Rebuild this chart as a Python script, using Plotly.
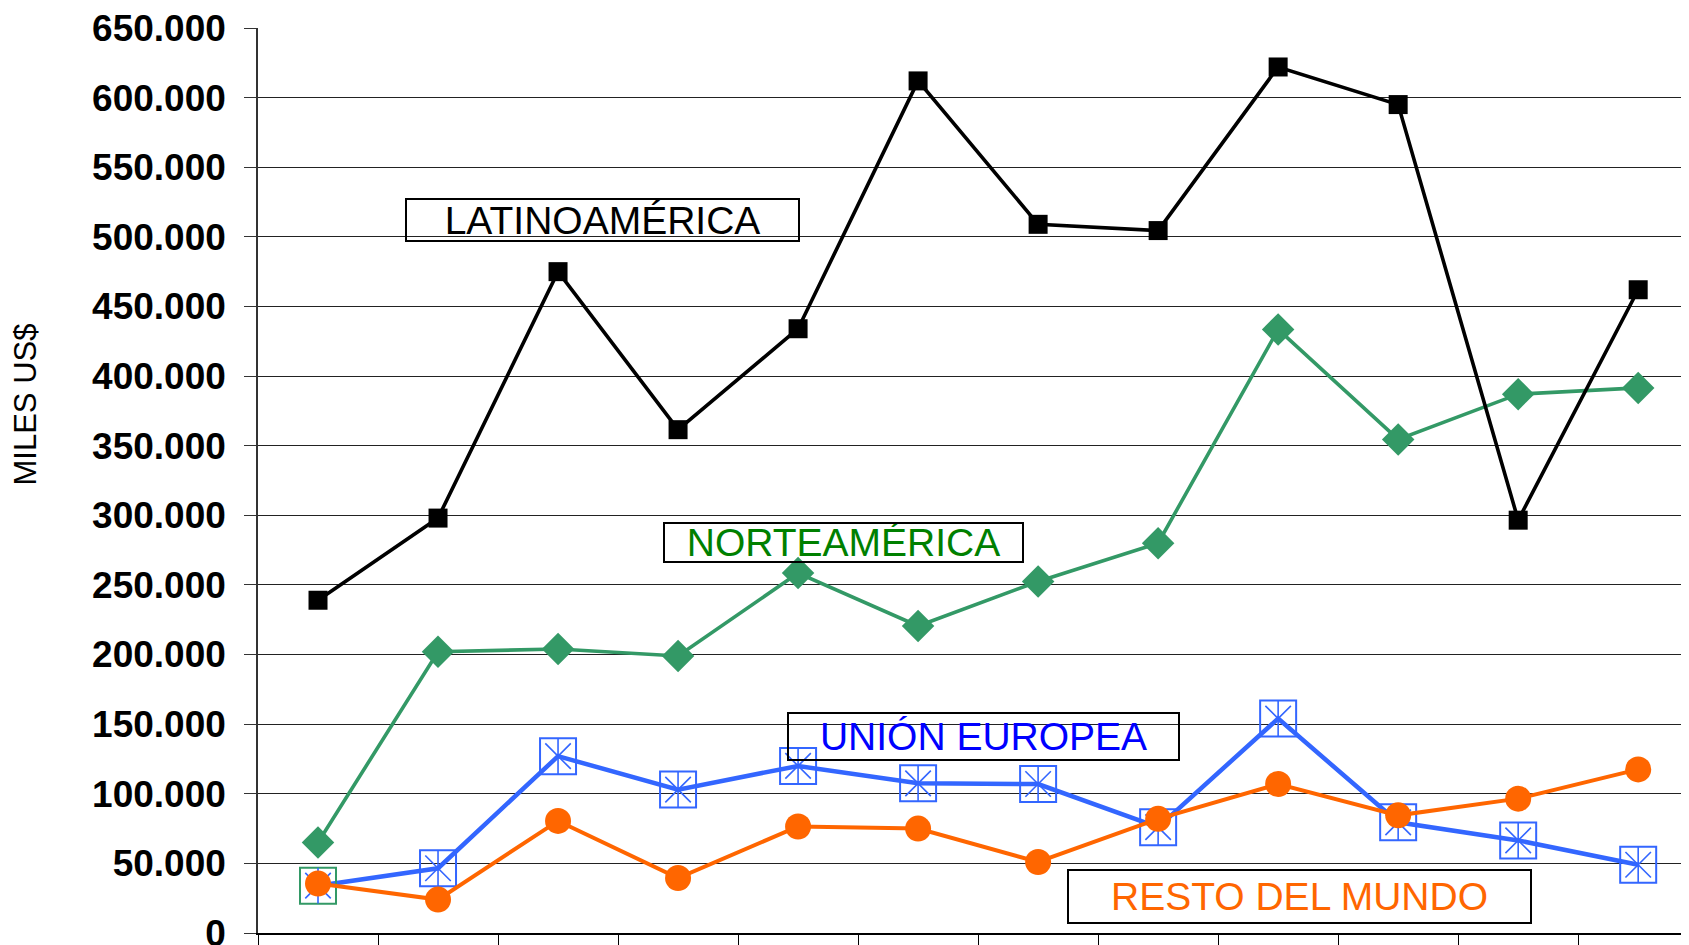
import plotly.graph_objects as go

# periodos (las etiquetas del eje x quedan fuera del recorte)
periodo = [1, 2, 3, 4, 5, 6, 7, 8, 9, 10, 11, 12]

# miles de US$
latinoamerica = [239000, 298000, 475000, 361500, 434000, 612000, 509000, 504500, 622000, 595000, 296500, 462000]
norteamerica = [65000, 202000, 204000, 199000, 258500, 220500, 252500, 280000, 433500, 354500, 387000, 391500]
union_europea = [34000, 46500, 127000, 103000, 120000, 107500, 107000, 76000, 154000, 79500, 66500, 49000]
resto_mundo = [35500, 24000, 80500, 39500, 76500, 75000, 51000, 82000, 107000, 84500, 96500, 117500]

y_ticks = [0, 50000, 100000, 150000, 200000, 250000, 300000, 350000, 400000,
           450000, 500000, 550000, 600000, 650000]

FONT = "Liberation Sans, Arial, sans-serif"
NEGRO = "#000000"
VERDE = "#339966"
AZUL = "#3366FF"
NARANJA = "#FF6600"

fig = go.Figure()

# UNION EUROPEA: line, square box, X and vertical stroke
fig.add_trace(go.Scatter(x=periodo, y=union_europea, mode="lines",
                         line=dict(color=AZUL, width=4.5), hoverinfo="skip"))
fig.add_trace(go.Scatter(x=periodo, y=union_europea, mode="markers",
                         marker=dict(symbol="square-open", size=36,
                                     color=[VERDE] + [AZUL] * 11,
                                     line=dict(width=2))))
fig.add_trace(go.Scatter(x=periodo, y=union_europea, mode="markers",
                         marker=dict(symbol="x-thin-open", size=25.5, color=AZUL,
                                     line=dict(color=AZUL, width=1.6))))
fig.add_trace(go.Scatter(x=periodo, y=union_europea, mode="markers",
                         marker=dict(symbol="line-ns-open", size=25.5, color=AZUL,
                                     line=dict(color=AZUL, width=1.6))))

# RESTO DEL MUNDO
fig.add_trace(go.Scatter(x=periodo, y=resto_mundo, mode="lines+markers",
                         line=dict(color=NARANJA, width=4),
                         marker=dict(symbol="circle", size=26, color=NARANJA)))

# NORTEAMERICA
fig.add_trace(go.Scatter(x=periodo, y=norteamerica, mode="lines+markers",
                         line=dict(color=VERDE, width=3.6),
                         marker=dict(symbol="diamond", size=25, color=VERDE)))

# LATINOAMERICA
fig.add_trace(go.Scatter(x=periodo, y=latinoamerica, mode="lines+markers",
                         line=dict(color=NEGRO, width=3.6),
                         marker=dict(symbol="square", size=19, color=NEGRO)))

etiquetas = [
    ("LATINOAMÉRICA", 3.371, 512000, 395, 44, NEGRO),
    ("NORTEAMÉRICA", 5.379, 280500, 361, 41, "#008000"),
    ("UNIÓN EUROPEA", 6.546, 141000, 393, 49, "#0000FF"),
    ("RESTO DEL MUNDO", 9.179, 26200, 465, 55, NARANJA),
]
for texto, xa, ya, w, h, col in etiquetas:
    fig.add_annotation(x=xa, y=ya, xref="x", yref="y", text=texto, showarrow=False,
                       width=w - 4, height=h - 4, borderpad=0,
                       bordercolor=NEGRO, borderwidth=2,
                       font=dict(family=FONT, size=39, color=col))

fig.add_annotation(x=-0.1616, y=0.5845, xref="paper", yref="paper", text="MILES US$",
                   textangle=-90, showarrow=False, xanchor="center", yanchor="middle",
                   font=dict(family=FONT, size=31, color=NEGRO))

fig.update_xaxes(range=[0.5, 12.49], showgrid=False, zeroline=False,
                 showline=True, linecolor=NEGRO, linewidth=1.5,
                 tickmode="array", tickvals=[p - 0.5 for p in periodo],
                 ticks="outside", ticklen=16, tickwidth=1.2, tickcolor=NEGRO,
                 showticklabels=False)
fig.update_yaxes(range=[0, 650000], tickmode="array", tickvals=y_ticks,
                 tickformat=",d", showgrid=True, gridcolor="#222222", gridwidth=1.2,
                 zeroline=False, showline=True, linecolor="#333333", linewidth=1.5,
                 ticks="outside", ticklen=12, tickwidth=1.2, tickcolor="#333333",
                 ticklabelstandoff=11, ticklabeloverflow="allow",
                 tickfont=dict(family=FONT, size=37, color=NEGRO, weight="bold"))

fig.update_layout(width=1689, height=945, showlegend=False,
                  separators=",.",
                  margin=dict(l=250, r=0, t=20, b=20, autoexpand=False),
                  plot_bgcolor="white", paper_bgcolor="white",
                  font=dict(family=FONT))

fig.write_html("out.html")
